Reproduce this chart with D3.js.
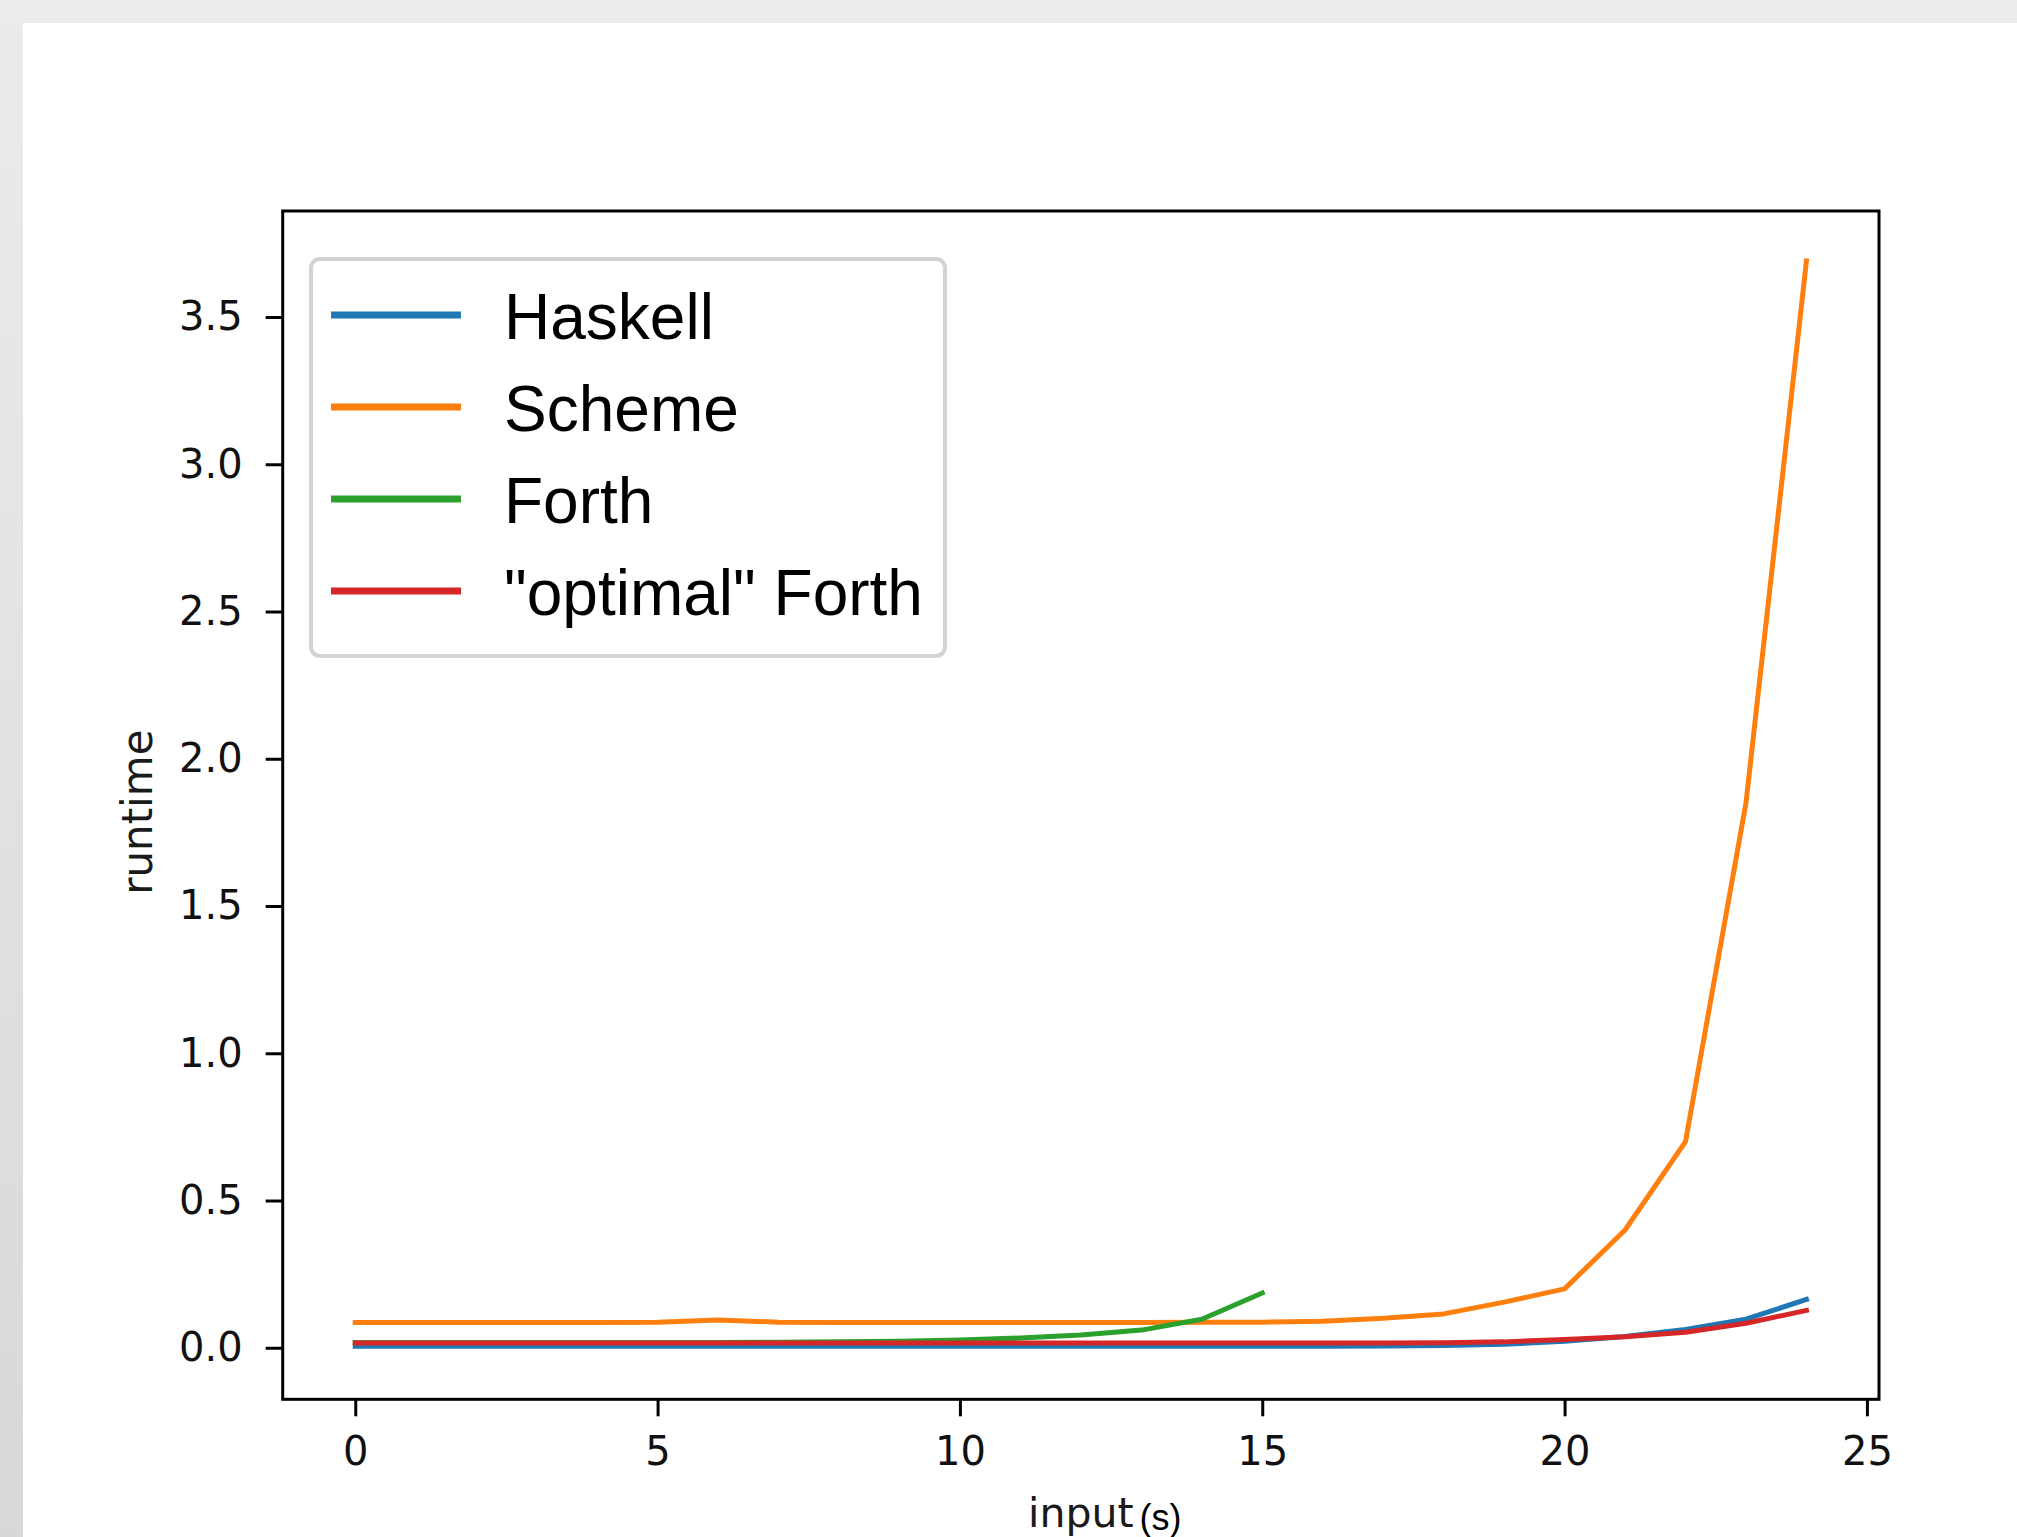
<!DOCTYPE html>
<html>
<head>
<meta charset="utf-8">
<script src="https://cdn.jsdelivr.net/npm/d3@7"></script>
<style>
  html, body { margin: 0; padding: 0; background: #ececec; }
  svg { display: block; }
  .tick text { font-family: "DejaVu Sans", sans-serif; font-size: 40px; fill: #111; }
  .tick line { stroke: #000; stroke-width: 3; }
</style>
</head>
<body>
<div id="chart"></div>
<script>
// Input sizes (x axis)
const inputs = [0, 1, 2, 3, 4, 5, 6, 7, 8, 9, 10, 11, 12, 13, 14, 15, 16, 17, 18, 19, 20, 21, 22, 23, 24];

// Runtimes
const haskell = [0.005, 0.005, 0.005, 0.005, 0.005, 0.005, 0.005, 0.005, 0.005, 0.005, 0.005, 0.005, 0.005,
                 0.005, 0.005, 0.005, 0.005, 0.006, 0.008, 0.012, 0.022, 0.038, 0.062, 0.097, 0.164];
const scheme = [0.086, 0.086, 0.086, 0.086, 0.086, 0.087, 0.094, 0.087, 0.086, 0.086, 0.086, 0.086, 0.086,
                0.086, 0.087, 0.087, 0.09, 0.1, 0.115, 0.155, 0.2, 0.4, 0.7, 1.85, 3.69];
const forth = [0.018, 0.018, 0.018, 0.018, 0.018, 0.018, 0.018, 0.019, 0.02, 0.022, 0.026, 0.033,
               0.043, 0.06, 0.097, 0.186];
const optimalForth = [0.016, 0.016, 0.016, 0.016, 0.016, 0.016, 0.016, 0.016, 0.016, 0.016, 0.016, 0.016, 0.016,
                      0.016, 0.016, 0.016, 0.016, 0.016, 0.017, 0.02, 0.028, 0.037, 0.053, 0.083, 0.127];

const seriesNames = ["Haskell", "Scheme", "Forth", "\"optimal\" Forth"];
const seriesColors = ["#1f77b4", "#ff7f0e", "#2ca02c", "#d62728"];
const seriesValues = [haskell, scheme, forth, optimalForth];

const xTicks = [0, 5, 10, 15, 20, 25];
const yTicks = [0, 0.5, 1.0, 1.5, 2.0, 2.5, 3.0, 3.5];

// Layout
const W = 2017, H = 1537;
const plot = {left: 282.7, top: 211, right: 1879, bottom: 1399.3};

const svg = d3.select("#chart").append("svg")
    .attr("width", W)
    .attr("height", H);

// Window background: gray strips on top and left, white page
const defs = svg.append("defs");
const grad = defs.append("linearGradient")
    .attr("id", "leftStrip")
    .attr("x1", 0).attr("y1", 0).attr("x2", 0).attr("y2", 1);
grad.append("stop").attr("offset", "0%").attr("stop-color", "#ebebeb");
grad.append("stop").attr("offset", "100%").attr("stop-color", "#d8d8d8");

svg.append("rect").attr("x", 0).attr("y", 0).attr("width", W).attr("height", H).attr("fill", "#ececec");
svg.append("rect").attr("x", 0).attr("y", 23).attr("width", 23).attr("height", H - 23).attr("fill", "url(#leftStrip)");
svg.append("rect").attr("x", 23).attr("y", 23).attr("width", W - 23).attr("height", H - 23).attr("fill", "#fff");

// Scales
const x = d3.scaleLinear()
    .domain([-1.2, 25.2])
    .range([plot.left, plot.right]);

const y = d3.scaleLinear()
    .domain([-0.175, 3.86])
    .range([plot.bottom, plot.top]);

// Axes
const xAxis = svg.append("g")
    .attr("transform", `translate(0,${plot.bottom})`)
    .call(d3.axisBottom(x).tickValues(xTicks).tickSize(17).tickPadding(20).tickFormat(d3.format("d")));
xAxis.select(".domain").remove();

const yAxis = svg.append("g")
    .attr("transform", `translate(${plot.left},0)`)
    .call(d3.axisLeft(y).tickValues(yTicks).tickSize(17).tickPadding(23).tickFormat(d3.format(".1f")));
yAxis.select(".domain").remove();

// Lines
const line = d3.line()
    .x((d, i) => x(inputs[i]))
    .y(d => y(d));

svg.append("g")
    .selectAll("path")
    .data(seriesValues)
    .enter()
    .append("path")
    .attr("d", d => line(d))
    .attr("fill", "none")
    .attr("stroke", (d, i) => seriesColors[i])
    .attr("stroke-width", 5)
    .attr("stroke-linecap", "square")
    .attr("stroke-linejoin", "round");

// Frame
svg.append("rect")
    .attr("x", plot.left)
    .attr("y", plot.top)
    .attr("width", plot.right - plot.left)
    .attr("height", plot.bottom - plot.top)
    .attr("fill", "none")
    .attr("stroke", "#000")
    .attr("stroke-width", 3);

// Axis labels
svg.append("text")
    .attr("transform", `translate(152,${(plot.top + plot.bottom) / 2 + 7}) rotate(-90)`)
    .attr("text-anchor", "middle")
    .style("font-family", "DejaVu Sans, sans-serif")
    .style("font-size", "42px")
    .style("fill", "#1a1a1a")
    .text("runtime");

const inputLabel = svg.append("text")
    .attr("x", (plot.left + plot.right) / 2)
    .attr("y", 1527)
    .attr("text-anchor", "middle")
    .style("font-family", "DejaVu Sans, sans-serif")
    .style("font-size", "41px")
    .style("fill", "#1a1a1a")
    .text("input");
const inputWidth = inputLabel.node().getComputedTextLength();

svg.append("text")
    .attr("x", (plot.left + plot.right) / 2 + inputWidth / 2 + 6)
    .attr("y", 1530)
    .style("font-family", "Liberation Sans, Arial, sans-serif")
    .style("font-size", "36px")
    .style("fill", "#000")
    .text("(s)");

// Legend
const legend = svg.append("g");
legend.append("rect")
    .attr("x", 311)
    .attr("y", 259)
    .attr("width", 634)
    .attr("height", 397)
    .attr("rx", 9)
    .attr("fill", "#fff")
    .attr("stroke", "#d3d3d3")
    .attr("stroke-width", 4);

const legendRow = 92;
seriesNames.forEach((name, i) => {
    const baseY = 339 + i * legendRow;
    legend.append("line")
        .attr("x1", 331)
        .attr("x2", 461)
        .attr("y1", baseY - 24)
        .attr("y2", baseY - 24)
        .attr("stroke", seriesColors[i])
        .attr("stroke-width", 7);
    legend.append("text")
        .attr("x", 504)
        .attr("y", baseY)
        .style("font-family", "Liberation Sans, Arial, sans-serif")
        .style("font-size", "64px")
        .style("fill", "#000")
        .text(name);
});
</script>
</body>
</html>
